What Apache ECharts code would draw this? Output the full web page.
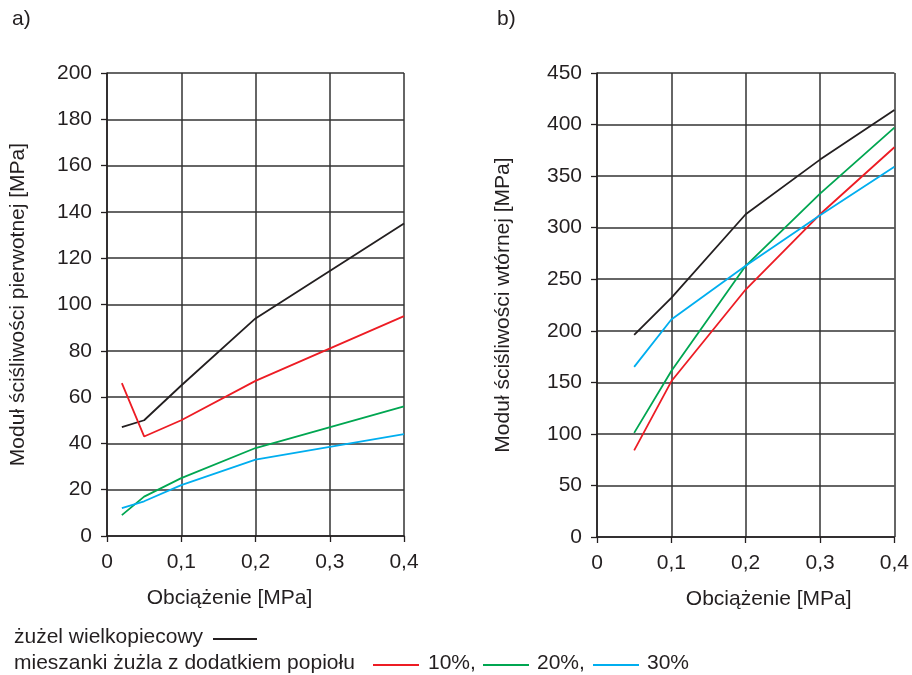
<!DOCTYPE html>
<html>
<head>
<meta charset="utf-8">
<script src="https://cdn.jsdelivr.net/npm/echarts@6/dist/echarts.min.js"></script>
<style>
  html, body { margin: 0; padding: 0; background: #fff; }
  #chart { width: 912px; height: 675px; }
</style>
</head>
<body>
<div id="chart"></div>
<script>
// a) modul pierwotny
var loadsA = [0.02, 0.05, 0.1, 0.2, 0.4];
var slagA = [47, 50, 65, 94, 135];
var mix10A = [66, 43, 50, 67, 95];
var mix20A = [9, 17, 25, 38, 56];
var mix30A = [12, 15, 22, 33, 44];

// b) modul wtorny
var loadsB = [0.05, 0.1, 0.2, 0.3, 0.4];
var slagB = [196, 232, 313, 366, 414];
var mix10B = [84, 151, 240, 313, 378];
var mix20B = [101, 161, 263, 333, 397];
var mix30B = [165, 211, 263, 312, 359];

var seriesNames = ['żużel wielkopiecowy', '10%', '20%', '30%'];
var colors = ['#231f20', '#ed1c24', '#00a651', '#00aeef'];

var font = 'Liberation Sans, Arial, sans-serif';
var fs = 21;
var ink = '#231f20';

function pairs(xs, ys) {
  return xs.map(function (x, i) { return [x, ys[i]]; });
}

function xAxisCfg(gridIndex, namePad) {
  return {
    type: 'value', gridIndex: gridIndex, min: 0, max: 0.4, interval: 0.1,
    name: 'Obciążenie [MPa]', nameLocation: 'middle', nameGap: 52,
    nameTextStyle: { fontFamily: font, fontSize: fs, color: ink, padding: namePad },
    axisLine: { lineStyle: { color: ink, width: 1.5 } },
    axisTick: { show: true, length: 6, lineStyle: { color: ink, width: 1.3 } },
    axisLabel: {
      fontFamily: font, fontSize: fs, color: ink, margin: 16,
      formatter: function (v) { return v === 0 ? '0' : v.toFixed(1).replace('.', ','); }
    },
    splitLine: { show: true, lineStyle: { color: '#333', width: 1.5 } }
  };
}

function yAxisCfg(gridIndex, name, max, interval, gap) {
  return {
    type: 'value', gridIndex: gridIndex, min: 0, max: max, interval: interval,
    name: name, nameLocation: 'middle', nameGap: gap,
    nameTextStyle: { fontFamily: font, fontSize: fs, color: ink },
    axisLine: { show: true, lineStyle: { color: ink, width: 1.5 } },
    axisTick: { show: true, length: 6, lineStyle: { color: ink, width: 1.3 } },
    axisLabel: { fontFamily: font, fontSize: fs, color: ink, margin: 15 },
    splitLine: { show: true, lineStyle: { color: '#333', width: 1.5 } }
  };
}

function lineSeries(name, idx, data, color) {
  return {
    name: name, type: 'line', xAxisIndex: idx, yAxisIndex: idx,
    data: data, symbol: 'none', smooth: false,
    lineStyle: { color: color, width: 1.8 }, itemStyle: { color: color },
    z: 5
  };
}

var seriesData = [
  lineSeries(seriesNames[0], 0, pairs(loadsA, slagA), colors[0]),
  lineSeries(seriesNames[1], 0, pairs(loadsA, mix10A), colors[1]),
  lineSeries(seriesNames[2], 0, pairs(loadsA, mix20A), colors[2]),
  lineSeries(seriesNames[3], 0, pairs(loadsA, mix30A), colors[3]),
  lineSeries(seriesNames[0], 1, pairs(loadsB, slagB), colors[0]),
  lineSeries(seriesNames[1], 1, pairs(loadsB, mix10B), colors[1]),
  lineSeries(seriesNames[2], 1, pairs(loadsB, mix20B), colors[2]),
  lineSeries(seriesNames[3], 1, pairs(loadsB, mix30B), colors[3])
];

function txt(x, y, s) {
  return { type: 'text', left: x, top: y, style: { text: s, font: fs + 'px ' + font, fill: ink } };
}
function seg(x1, x2, y, color) {
  return { type: 'line', shape: { x1: x1, y1: y, x2: x2, y2: y }, style: { stroke: color, lineWidth: 2 } };
}

var chart = echarts.init(document.getElementById('chart'));
var option = {
  animation: false,
  backgroundColor: '#fff',
  grid: [
    { left: 107, top: 73, width: 297, height: 463 },
    { left: 597, top: 73, width: 300, height: 464 }
  ],
  xAxis: [xAxisCfg(0, [0, 52, 0, 0]), xAxisCfg(1, [0, 0, 0, 46])],
  yAxis: [
    yAxisCfg(0, 'Moduł ściśliwości pierwotnej [MPa]', 200, 20, 78),
    yAxisCfg(1, 'Moduł ściśliwości wtórnej [MPa]', 450, 50, 83)
  ],
  series: seriesData,
  graphic: [
    txt(12, 9, 'a)'),
    txt(497, 9, 'b)'),
    txt(14, 627, 'żużel wielkopiecowy'),
    seg(213, 257, 639, colors[0]),
    txt(14, 653, 'mieszanki żużla z dodatkiem popiołu'),
    seg(373, 419, 665, colors[1]),
    txt(428, 653, '10%,'),
    seg(483, 529, 665, colors[2]),
    txt(537, 653, '20%,'),
    seg(593, 639, 665, colors[3]),
    txt(647, 653, '30%')
  ]
};
chart.setOption(option, true);
</script>
</body>
</html>
